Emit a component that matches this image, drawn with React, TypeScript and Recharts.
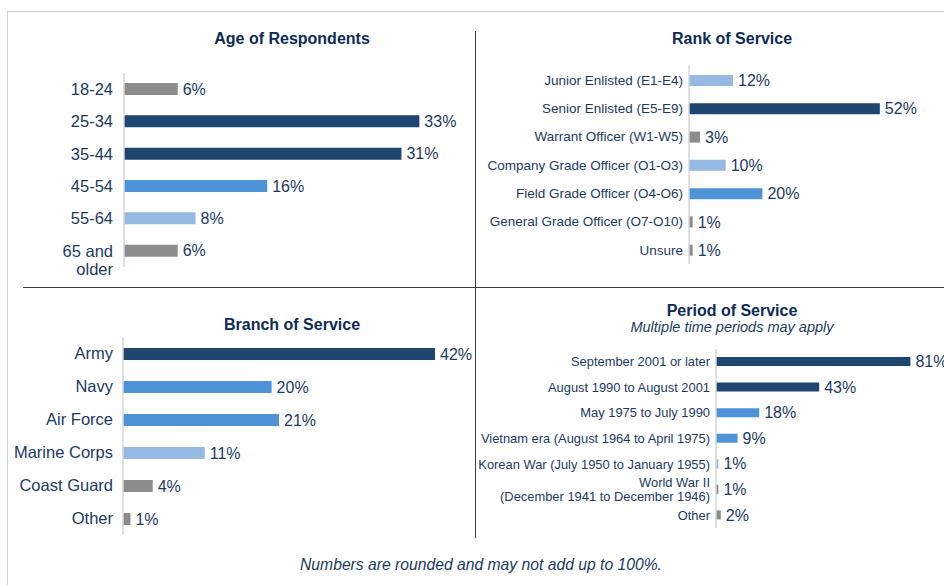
import React from "react";
import { BarChart, Bar, XAxis, YAxis, Cell, LabelList } from "recharts";

const DARK = "#1f4670";
const MID = "#4e93d8";
const LIGHT = "#95b9e3";
const GREY = "#8c8c8c";
const NAVY = "#1b3a62";
const TITLE = "#0d2b57";
const FONT = "'Liberation Sans', Arial, sans-serif";

// Age of Respondents
const ageCategories = ["18-24", "25-34", "35-44", "45-54", "55-64", "65 and\nolder"];
const ageValues = [6, 33, 31, 16, 8, 6];
const ageColors = [GREY, DARK, DARK, MID, LIGHT, GREY];

// Rank of Service
const rankCategories = [
  "Junior Enlisted (E1-E4)",
  "Senior Enlisted (E5-E9)",
  "Warrant Officer (W1-W5)",
  "Company Grade Officer (O1-O3)",
  "Field Grade Officer (O4-O6)",
  "General Grade Officer (O7-O10)",
  "Unsure",
];
const rankValues = [12, 52, 3, 10, 20, 1, 1];
const rankColors = [LIGHT, DARK, GREY, LIGHT, MID, GREY, GREY];

// Branch of Service
const branchCategories = ["Army", "Navy", "Air Force", "Marine Corps", "Coast Guard", "Other"];
const branchValues = [42, 20, 21, 11, 4, 1];
const branchColors = [DARK, MID, MID, LIGHT, GREY, GREY];

// Period of Service
const periodCategories = [
  "September 2001 or later",
  "August 1990 to August 2001",
  "May 1975 to July 1990",
  "Vietnam era (August 1964 to April 1975)",
  "Korean War (July 1950 to January 1955)",
  "World War II\n(December 1941 to December 1946)",
  "Other",
];
const periodValues = [81, 43, 18, 9, 1, 1, 2];
const periodColors = [DARK, DARK, MID, MID, LIGHT, GREY, GREY];

interface PanelProps {
  categories: string[];
  values: number[];
  colors: string[];
  axisX: number; // where the category axis sits on the page
  axisWidth: number;
  top: number;
  height: number;
  right: number; // right end of the plot area
  pxPerPct: number;
  barSize: number;
  tickFont: number;
  tickGap: number;
  lineHeight: number;
  firstLineOnBar?: boolean;
  padRight?: number;
  padBottom?: number;
}

// tick that can wrap on "\n"
const MultiTick = (props: any) => {
  const { x, y, payload, fontSize, lineHeight, firstLineOnBar } = props;
  const lines = String(payload.value).split("\n");
  const start = firstLineOnBar ? 0 : -((lines.length - 1) * lineHeight) / 2;
  return (
    <text textAnchor="end" fill={NAVY} fontSize={fontSize} fontFamily={FONT}>
      {lines.map((l: string, i: number) => (
        <tspan key={i} x={x} y={y + start + i * lineHeight + fontSize * 0.35}>
          {l}
        </tspan>
      ))}
    </text>
  );
};

const Panel = (p: PanelProps) => {
  const data = p.categories.map((name, i) => ({ name, value: p.values[i] }));
  const padR = p.padRight ?? 0;
  const padB = p.padBottom ?? 0;
  const left = p.axisX - p.axisWidth;
  const width = p.right - left + padR;
  const domainMax = (p.right - p.axisX) / p.pxPerPct;
  return (
    <div style={{ position: "absolute", left, top: p.top }}>
      <BarChart
        layout="vertical"
        width={width}
        height={p.height + padB}
        data={data}
        margin={{ top: 0, right: padR, bottom: padB, left: 0 }}
      >
        <XAxis type="number" hide domain={[0, domainMax]} />
        <YAxis
          type="category"
          dataKey="name"
          width={p.axisWidth}
          axisLine={{ stroke: "#d6d6d6", strokeWidth: 1.5 }}
          tickLine={false}
          tickSize={0}
          tickMargin={p.tickGap}
          interval={0}
          tick={(t: any) => (
            <MultiTick
              {...t}
              fontSize={p.tickFont}
              lineHeight={p.lineHeight}
              firstLineOnBar={p.firstLineOnBar}
            />
          )}
        />
        <Bar dataKey="value" barSize={p.barSize} isAnimationActive={false}>
          {data.map((d, i) => (
            <Cell key={`cell-${i}`} fill={p.colors[i]} />
          ))}
          <LabelList
            dataKey="value"
            position="right"
            offset={5}
            formatter={(v: any) => `${v}%`}
            fill={NAVY}
            fontSize={16}
            fontFamily={FONT}
          />
        </Bar>
      </BarChart>
    </div>
  );
};

const titleStyle = (cx: number, cy: number): React.CSSProperties => ({
  position: "absolute",
  left: cx - 200,
  width: 400,
  top: cy - 8,
  textAlign: "center",
  fontWeight: "bold",
  fontSize: 16,
  color: TITLE,
  lineHeight: "16px",
  fontFamily: FONT,
});

export default function App() {
  return (
    <div
      style={{
        position: "absolute",
        left: 0,
        top: 0,
        width: 944,
        height: 585,
        overflow: "hidden",
        background: "#fff",
        fontFamily: FONT,
      }}
    >
      {/* frame */}
      <div style={{ position: "absolute", left: 7, top: 11, width: 960, height: 600, borderLeft: "1.5px solid #d2d2d2", borderTop: "1.5px solid #d2d2d2" }} />
      <div style={{ position: "absolute", left: 23, top: 287, width: 930, height: 0, borderTop: "1.5px solid #3c3c3c" }} />
      <div style={{ position: "absolute", left: 474.5, top: 31, width: 0, height: 507, borderLeft: "1.5px solid #3c3c3c" }} />

      <div style={titleStyle(292, 39)}>Age of Respondents</div>
      <div style={titleStyle(732, 39)}>Rank of Service</div>
      <div style={titleStyle(292, 325)}>Branch of Service</div>
      <div style={titleStyle(732, 311)}>Period of Service</div>
      <div
        style={{
          position: "absolute",
          left: 532,
          width: 400,
          top: 320,
          textAlign: "center",
          fontStyle: "italic",
          fontSize: 14.5,
          color: NAVY,
          lineHeight: "14px",
        }}
      >
        Multiple time periods may apply
      </div>

      <Panel
        categories={ageCategories}
        values={ageValues}
        colors={ageColors}
        axisX={124}
        axisWidth={124}
        top={73}
        height={194}
        right={464}
        pxPerPct={8.95}
        barSize={12}
        tickFont={16.5}
        tickGap={11}
        lineHeight={18}
        firstLineOnBar
        padBottom={24}
      />
      <Panel
        categories={rankCategories}
        values={rankValues}
        colors={rankColors}
        axisX={689}
        axisWidth={205}
        top={66}
        height={198}
        right={940}
        pxPerPct={3.67}
        barSize={11}
        tickFont={13.5}
        tickGap={6}
        lineHeight={15}
      />
      <Panel
        categories={branchCategories}
        values={branchValues}
        colors={branchColors}
        axisX={123}
        axisWidth={123}
        top={337}
        height={198}
        right={460}
        pxPerPct={7.43}
        barSize={12}
        tickFont={16.5}
        tickGap={10}
        lineHeight={18}
        padRight={14}
      />
      <Panel
        categories={periodCategories}
        values={periodValues}
        colors={periodColors}
        axisX={716}
        axisWidth={240}
        top={349}
        height={179}
        right={944}
        pxPerPct={2.4}
        barSize={9}
        tickFont={12.9}
        tickGap={6}
        lineHeight={14}
      />

      <div
        style={{
          position: "absolute",
          left: 181,
          width: 600,
          top: 556,
          textAlign: "center",
          fontStyle: "italic",
          fontSize: 15.7,
          color: NAVY,
          lineHeight: "18px",
        }}
      >
        Numbers are rounded and may not add up to 100%.
      </div>
    </div>
  );
}
